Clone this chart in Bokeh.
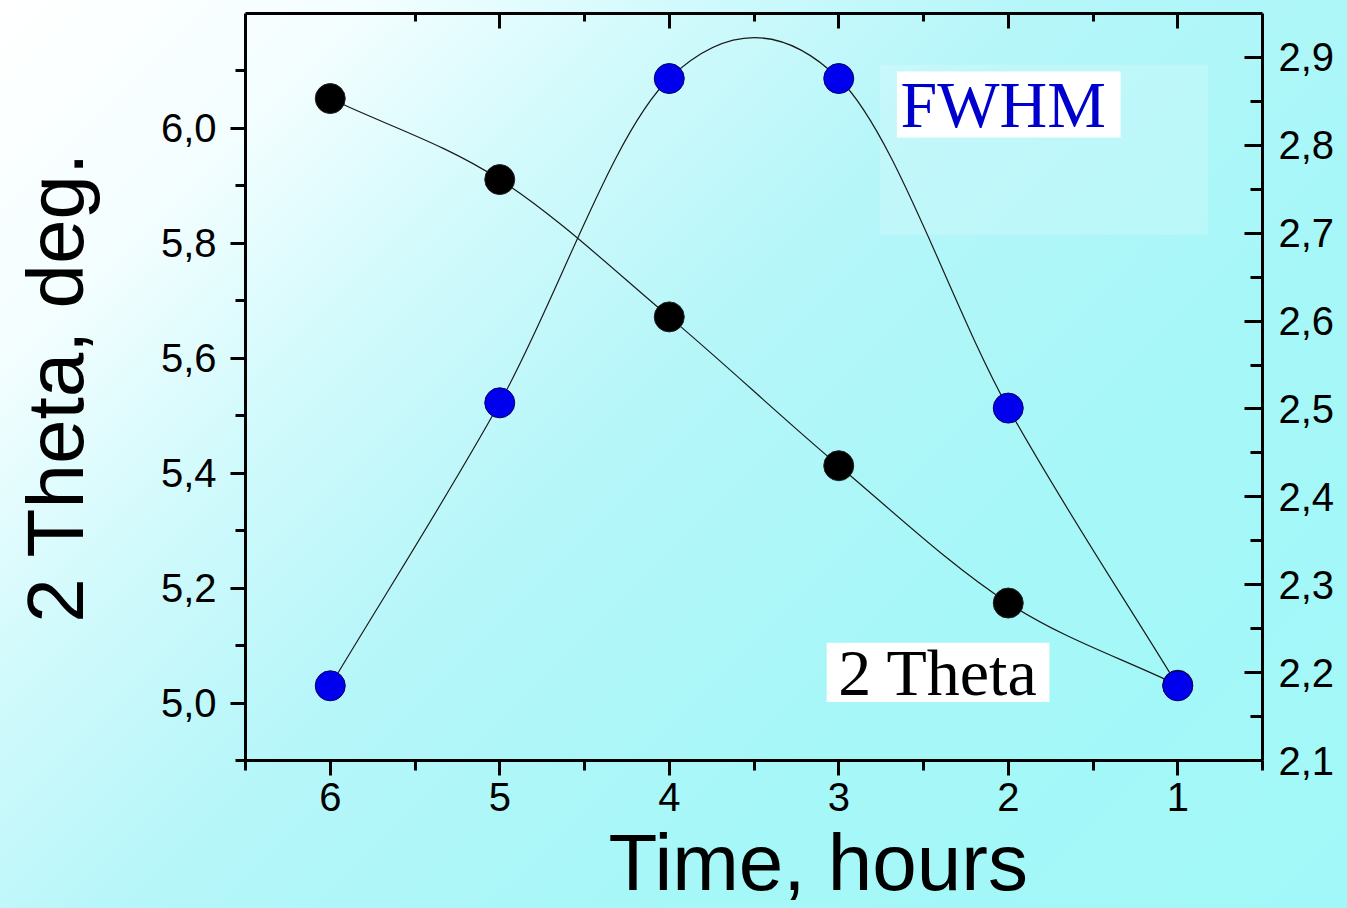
import numpy as np
from bokeh.plotting import figure
from bokeh.models import (Range1d, LinearAxis, FixedTicker, CustomJSTickFormatter,
                          Label, Title)
from bokeh.embed import file_html
from bokeh.resources import INLINE

# ---------------- data ----------------
time_hours = [6, 5, 4, 3, 2, 1]
two_theta = [6.052, 5.911, 5.672, 5.413, 5.174, 5.031]
fwhm = [2.185, 2.507, 2.876, 2.876, 2.501, 2.185]

x_major = [1, 2, 3, 4, 5, 6]
x_minor = [0.5, 1.5, 2.5, 3.5, 4.5, 5.5, 6.5]
top_major = [1, 2, 3, 4, 5]
top_minor = [1.5, 2.5, 3.5, 4.5, 5.5]
left_major = [5.0, 5.2, 5.4, 5.6, 5.8, 6.0]
left_minor = [4.9, 5.1, 5.3, 5.5, 5.7, 5.9, 6.1]
right_major = [2.1, 2.2, 2.3, 2.4, 2.5, 2.6, 2.7, 2.8, 2.9]
right_minor = [2.15, 2.25, 2.35, 2.45, 2.55, 2.65, 2.75, 2.85]

SANS = "Liberation Sans"
SERIF = "Liberation Serif"

p = figure(width=1347, height=908, output_backend="svg", toolbar_location=None,
           x_range=Range1d(6.5, 0.5), y_range=Range1d(4.9, 6.2),
           x_axis_type=None, y_axis_type=None,
           min_border_left=245, min_border_right=85, min_border_top=13,
           min_border_bottom=148)
p.extra_y_ranges = {"fwhm": Range1d(2.1, 2.95)}
p.background_fill_alpha = 0
p.border_fill_alpha = 0
p.outline_line_color = None
p.styles = {"background": "linear-gradient(135deg, #ffffff 0%, #f4feff 16%, #d2fafc 30%, "
                          "#b6f6f9 46%, #a6f7f8 70%, #a2f8f8 100%)"}

comma_fmt = CustomJSTickFormatter(code="return tick.toFixed(1).replace('.', ',');")
int_fmt = CustomJSTickFormatter(code="return tick.toFixed(0);")
empty_fmt = CustomJSTickFormatter(code="return '';")


def style_axis(ax, tin, tout, min_in, min_out):
    ax.axis_line_width = 3
    ax.axis_line_color = "black"
    ax.major_tick_line_width = 3
    ax.minor_tick_line_width = 3
    ax.major_tick_in = tin
    ax.major_tick_out = tout
    ax.minor_tick_in = min_in
    ax.minor_tick_out = min_out
    ax.major_label_text_font = SANS
    ax.major_label_text_font_size = "40px"
    ax.major_label_text_color = "black"
    ax.axis_label_text_font = SANS
    ax.axis_label_text_font_style = "normal"
    ax.axis_label_text_color = "black"


bottom = LinearAxis(ticker=FixedTicker(ticks=x_major, minor_ticks=x_minor), formatter=int_fmt)
style_axis(bottom, 0, 15, 0, 10)
bottom.major_label_standoff = 7
p.add_layout(bottom, "below")

# x-axis title (placed off-centre, as in the original)
p.add_layout(Title(text="Time, hours", align="left", offset=363, standoff=4,
                   text_font=SANS, text_font_size="80px", text_font_style="normal",
                   text_color="black"), "below")

top = LinearAxis(ticker=FixedTicker(ticks=top_major, minor_ticks=top_minor), formatter=empty_fmt)
style_axis(top, 15, 0, 8, 0)
top.major_label_text_font_size = "0px"
top.major_label_standoff = 0
p.add_layout(top, "above")

left = LinearAxis(ticker=FixedTicker(ticks=left_major, minor_ticks=left_minor), formatter=comma_fmt)
style_axis(left, 0, 15, 0, 10)
left.major_label_standoff = 14
left.axis_label = "2 Theta, deg."
left.axis_label_text_font_size = "80px"
left.axis_label_standoff = 58
p.add_layout(left, "left")

right = LinearAxis(y_range_name="fwhm",
                   ticker=FixedTicker(ticks=right_major, minor_ticks=right_minor),
                   formatter=comma_fmt)
style_axis(right, 18, 0, 12, 0)
right.major_label_standoff = 16
p.add_layout(right, "right")


# ---------------- smooth connecting curves (Catmull-Rom via bezier) ----------------
def bezier_parts(xs, ys):
    xs = np.asarray(xs, dtype=float)
    ys = np.asarray(ys, dtype=float)
    n = len(xs)

    def tang(v):
        t = np.empty(n)
        t[0] = v[1] - v[0]
        t[-1] = v[-1] - v[-2]
        t[1:-1] = (v[2:] - v[:-2]) / 2.0
        return t

    tx, ty = tang(xs), tang(ys)
    return dict(x0=xs[:-1], y0=ys[:-1], x1=xs[1:], y1=ys[1:],
                cx0=xs[:-1] + tx[:-1] / 3, cy0=ys[:-1] + ty[:-1] / 3,
                cx1=xs[1:] - tx[1:] / 3, cy1=ys[1:] - ty[1:] / 3)


# faint light panel behind FWHM label
p.quad(left=2.757, right=0.822, top=6.111, bottom=5.815,
       fill_color="white", fill_alpha=0.18, line_color=None)

p.bezier(**bezier_parts(time_hours, two_theta), line_color="#1a1a1a", line_width=1.2)
p.bezier(**bezier_parts(time_hours, fwhm), line_color="#1a1a1a", line_width=1.2,
         y_range_name="fwhm")

p.scatter(time_hours, two_theta, size=30, fill_color="black", line_color="#222222",
          line_width=1)
p.scatter(time_hours, fwhm, size=30, fill_color="#0000ee", line_color="#000066",
          line_width=1, y_range_name="fwhm")

# label boxes
p.quad(left=2.657, right=1.337, top=6.099, bottom=5.984,
       fill_color="white", line_color=None)
p.quad(left=3.071, right=1.757, top=5.105, bottom=5.002,
       fill_color="white", line_color=None)

p.add_layout(Label(x=2.03, y=6.042, text="FWHM", text_font=SERIF,
                   text_font_size="66px", text_color="#0000cc",
                   text_align="center", text_baseline="middle"))
p.add_layout(Label(x=2.414, y=5.053, text="2 Theta", text_font=SERIF,
                   text_font_size="66px", text_color="black",
                   text_align="center", text_baseline="middle"))

open("out.html", "w").write(file_html(p, INLINE))
